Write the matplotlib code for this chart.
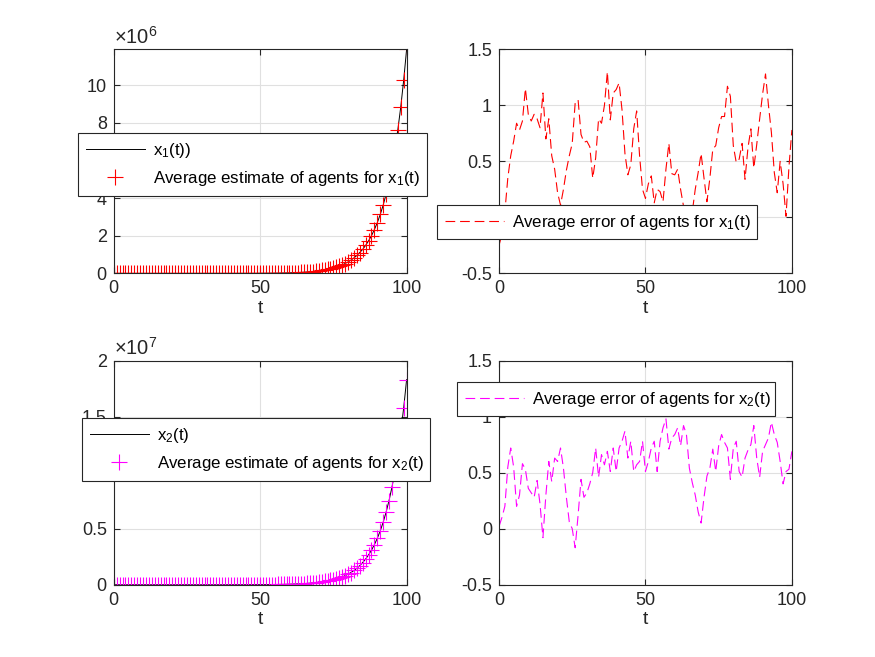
import matplotlib
matplotlib.use("Agg")
import matplotlib.pyplot as plt

plt.rcParams["font.family"] = ["Liberation Sans", "DejaVu Sans"]
plt.rcParams["mathtext.fontset"] = "custom"
plt.rcParams["mathtext.rm"] = "Liberation Sans"
plt.rcParams["mathtext.default"] = "regular"
plt.rcParams["lines.scale_dashes"] = False

AX_COL = "#262626"

t = list(range(101))

# x1(t) in units of 1e6
x1_true = [0.0] * 35 + [
    0.0005, 0.0006, 0.0007, 0.0008, 0.0009,
    0.0010, 0.0012, 0.0014, 0.0016, 0.0019, 0.0022, 0.0026, 0.0030, 0.0034, 0.0040,
    0.0071, 0.0082, 0.0095, 0.011, 0.013, 0.015, 0.017, 0.020, 0.023, 0.027,
    0.031, 0.036, 0.042, 0.049, 0.057, 0.066, 0.077, 0.089, 0.103, 0.120,
    0.139, 0.161, 0.187, 0.216, 0.251, 0.291, 0.338, 0.392, 0.454, 0.527,
    0.611, 0.709, 0.823, 0.954, 1.11, 1.28, 1.49, 1.73, 2.00, 2.33,
    2.70, 3.13, 3.63, 4.21, 4.88, 5.67, 6.57, 7.62, 8.84, 10.26,
    11.90,
]
x1_est = x1_true

# x2(t) in units of 1e7
x2_true = [0.0] * 40 + [
    0.0002, 0.0002, 0.0003, 0.0003, 0.0004, 0.0004, 0.0005, 0.0006, 0.0007, 0.0008,
    0.0010, 0.0011, 0.0013, 0.0015, 0.0017, 0.0020, 0.0023, 0.0027, 0.0031, 0.0036,
    0.0048, 0.0056, 0.0065, 0.0076, 0.0088, 0.010, 0.012, 0.014, 0.016, 0.018,
    0.021, 0.025, 0.029, 0.033, 0.039, 0.045, 0.052, 0.060, 0.070, 0.081,
    0.094, 0.109, 0.127, 0.147, 0.170, 0.198, 0.229, 0.266, 0.308, 0.358,
    0.415, 0.481, 0.558, 0.648, 0.751, 0.871, 1.011, 1.172, 1.360, 1.578,
    1.830,
]
x2_est = x2_true

err1 = [
    -0.25, -0.15, 0.05, 0.35, 0.55, 0.68, 0.84, 0.78, 0.86, 1.15,
    0.92, 0.86, 0.92, 0.88, 0.80, 1.11, 0.70, 0.88, 0.55, 0.43,
    0.22, 0.11, 0.25, 0.42, 0.55, 0.66, 1.02, 1.05, 0.74, 0.67,
    0.68, 0.63, 0.35, 0.53, 0.88, 0.84, 1.00, 1.30, 0.87, 1.11,
    1.14, 1.20, 0.96, 0.57, 0.38, 0.47, 0.79, 0.95, 0.55, 0.25,
    0.17, 0.30, 0.37, 0.13, 0.25, 0.23, 0.14, 0.43, 0.66, 0.39,
    0.38, 0.43, 0.25, 0.10, 0.02, -0.02, 0.05, 0.25, 0.40, 0.57,
    0.35, 0.14, 0.35, 0.61, 0.64, 0.80, 0.90, 0.90, 1.17, 1.08,
    0.64, 0.49, 0.52, 0.66, 0.34, 0.62, 0.79, 0.44, 0.65, 0.88,
    1.10, 1.28, 1.00, 0.76, 0.40, 0.22, 0.50, 0.30, 0.01, 0.45,
    0.78,
]

err2 = [
    0.02, 0.10, 0.20, 0.55, 0.72, 0.55, 0.20, 0.30, 0.58, 0.53,
    0.36, 0.32, 0.28, 0.43, 0.22, -0.08, 0.30, 0.60, 0.42, 0.63,
    0.60, 0.72, 0.54, 0.28, 0.06, 0.00, -0.17, 0.12, 0.44, 0.28,
    0.32, 0.40, 0.50, 0.72, 0.46, 0.66, 0.57, 0.69, 0.51, 0.72,
    0.51, 0.72, 0.78, 0.87, 0.63, 0.78, 0.51, 0.57, 0.60, 0.78,
    0.51, 0.60, 0.72, 0.78, 0.51, 0.78, 0.90, 0.98, 0.71, 0.81,
    0.84, 0.90, 0.74, 0.92, 0.84, 0.54, 0.41, 0.30, 0.15, 0.05,
    0.28, 0.47, 0.54, 0.71, 0.51, 0.74, 0.84, 0.77, 0.72, 0.44,
    0.72, 0.78, 0.51, 0.46, 0.63, 0.70, 0.75, 0.92, 0.63, 0.46,
    0.69, 0.75, 0.81, 0.95, 0.84, 0.77, 0.60, 0.40, 0.51, 0.53,
    0.69,
]

err_ticks = [-0.5, 0, 0.5, 1, 1.5]
err_labels = ["-0.5", "0", "0.5", "1", "1.5"]


def style(ax):
    ax.set_xlim(0, 100)
    ax.set_xticks([0, 50, 100])
    ax.grid(True, color="#e0e0e0", linewidth=0.8)
    ax.set_axisbelow(True)
    for s in ax.spines.values():
        s.set_color(AX_COL)
        s.set_linewidth(0.8)
    ax.tick_params(direction="in", top=True, right=True, length=4,
                   width=0.8, colors=AX_COL, labelsize=13, pad=5)
    ax.set_xlabel("t", fontsize=14, color=AX_COL, labelpad=2)


def add_legend(ax, fig, x0, top, w):
    leg = ax.legend(loc="upper left", bbox_to_anchor=(x0, top - 0.2, w, 0.2),
                    bbox_transform=fig.transFigure, mode="expand",
                    borderaxespad=0, fontsize=12.2, frameon=True, fancybox=False,
                    framealpha=1, edgecolor=AX_COL, handlelength=3.5,
                    handletextpad=0.5, borderpad=0.45, labelspacing=0.55)
    leg.get_frame().set_linewidth(0.8)
    return leg


fig = plt.figure(figsize=(8.75, 6.57), dpi=100)
w, h = 0.3347, 0.3412
ax1 = fig.add_axes([0.13, 0.5838, w, h])
ax2 = fig.add_axes([0.5703, 0.5838, w, h])
ax3 = fig.add_axes([0.13, 0.11, w, h])
ax4 = fig.add_axes([0.5703, 0.11, w, h])

# top-left: x1
ax1.plot(t, x1_true, color="black", linewidth=0.7, label="x$_1$(t))")
ax1.plot(t, x1_est, linestyle="none", marker="+", color="red",
         markersize=12, markeredgewidth=0.8,
         label="Average estimate of agents for x$_1$(t)")
style(ax1)
ax1.set_ylim(0, 11.9)
ax1.set_yticks([0, 2, 4, 6, 8, 10])
ax1.set_yticklabels(["0", "2", "4", "6", "8", "10"])
ax1.text(0.0, 1.006, r"$\times$10$^{6}$", transform=ax1.transAxes,
         ha="left", va="bottom", fontsize=14.5, color=AX_COL)
add_legend(ax1, fig, 0.0891, 0.7976, 0.399)

# top-right: error x1
ax2.plot(t, err1, color="red", linewidth=0.8, linestyle=(0, (7, 3.5)),
         label="Average error of agents for x$_1$(t)")
style(ax2)
ax2.set_ylim(-0.5, 1.5)
ax2.set_yticks(err_ticks)
ax2.set_yticklabels(err_labels)
add_legend(ax2, fig, 0.4994, 0.688, 0.3657)

# bottom-left: x2
ax3.plot(t, x2_true, color="black", linewidth=0.7, label="x$_2$(t)")
ax3.plot(t, x2_est, linestyle="none", marker="+", color="magenta",
         markersize=12, markeredgewidth=0.8,
         label="Average estimate of agents for x$_2$(t)")
style(ax3)
ax3.set_ylim(0, 2)
ax3.set_yticks([0, 0.5, 1, 1.5, 2])
ax3.set_yticklabels(["0", "0.5", "1", "1.5", "2"])
ax3.text(0.0, 1.006, r"$\times$10$^{7}$", transform=ax3.transAxes,
         ha="left", va="bottom", fontsize=14.5, color=AX_COL)
add_legend(ax3, fig, 0.0937, 0.3638, 0.3977)

# bottom-right: error x2
ax4.plot(t, err2, color="magenta", linewidth=0.8, linestyle=(0, (7, 3.5)),
         label="Average error of agents for x$_2$(t)")
style(ax4)
ax4.set_ylim(-0.5, 1.5)
ax4.set_yticks(err_ticks)
ax4.set_yticklabels(err_labels)
add_legend(ax4, fig, 0.5223, 0.4186, 0.3634)

fig.savefig("out.png", dpi=100)
